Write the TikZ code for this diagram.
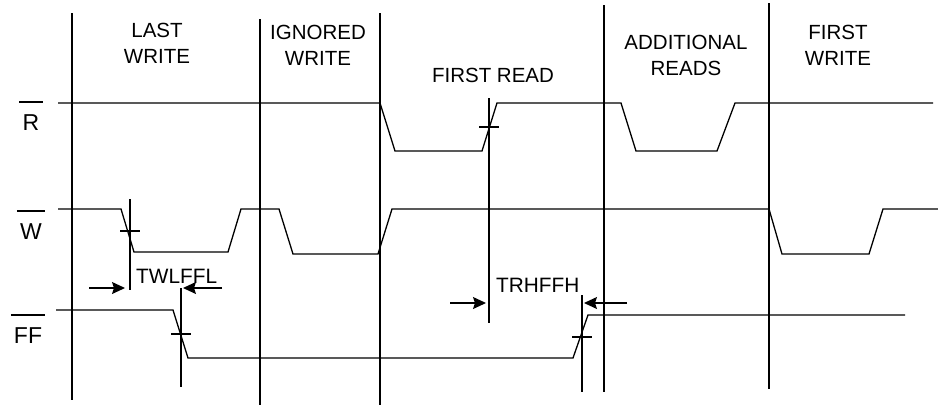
\documentclass[tikz,border=0pt]{standalone}
\usepackage{fontspec}
\setmainfont{Liberation Sans}
\usetikzlibrary{arrows.meta, positioning}

\begin{document}
\begin{tikzpicture}[
    x=1pt, y=-1pt,
    wave/.style = {line width=1.3pt, line join=miter},
    marker/.style = {line width=1.3pt},
    phase/.style = {align=center, anchor=base, inner sep=0pt, font=\fontsize{20.5}{26}\selectfont},
    signame/.style = {anchor=base, inner sep=0pt, font=\fontsize{23}{26}\selectfont},
    timing/.style = {anchor=base west, inner sep=0pt, font=\fontsize{20.8}{26}\selectfont},
    arrow/.style = {line width=1.3pt, -{Stealth[length=13pt, width=12pt, inset=2pt]}}
]
\useasboundingbox (0,0) rectangle (938,405);

% Define phase labels
\node[phase] (lastwrite) at (157,63) {LAST\\WRITE};
\node[phase] (ignored) at (318,65) {IGNORED\\WRITE};
\node[phase] (firstread) at (493,82) {FIRST READ};
\node[phase] (addreads) at (686,75) {ADDITIONAL\\READS};
\node[phase] (firstwrite) at (838,65) {FIRST\\WRITE};

% Define signal names
\node[signame] (rname) at (31,130) {R};
\node[signame] (wname) at (31,239) {W};
\node[signame] (ffname) at (28,343) {FF};
\foreach \s in {rname, wname, ffname}
    \draw[marker] ([shift={(-3,-28)}]\s.base west) -- ([shift={(3,-28)}]\s.base east);

% Phase borders
\draw[marker] (72,13) -- (72,400);
\draw[marker] (260,19) -- (260,405);
\draw[marker] (380,13) -- (380,405);
\draw[marker] (604,5) -- (604,392);
\draw[marker] (769,3) -- (769,389);

% Draw waveforms
\draw[wave] (58,103) -- (380,103) -- (395,151) -- (482,151) -- (497,103) -- (621,103)
    -- (636,151) -- (717,151) -- (735,103) -- (933,103);
\draw[wave] (58,209) -- (121,209) -- (134,252) -- (228,252) -- (241,209) -- (279,209)
    -- (293,254) -- (378,254) -- (392,209) -- (769,209) -- (782,254) -- (869,254)
    -- (883,209) -- (938,209);
\draw[wave] (56,310) -- (173,310) -- (188,358) -- (573,358) -- (588,315) -- (905,315);

% Timing marks
\coordinate (wfall) at (130,231);
\coordinate (fffall) at (181,334);
\coordinate (rrise) at (489,127);
\coordinate (ffrise) at (582,337);
\foreach \c in {wfall, fffall, rrise, ffrise}
    \draw[marker] ([xshift=-10]\c) -- ([xshift=10]\c);
\draw[marker] (130,199) -- (130,290);
\draw[marker] (181,288) -- (181,387);
\draw[marker] (489,98) -- (489,323);
\draw[marker] (582,295) -- (582,392);

% Draw arrows
\node[timing] (twlffl) at (136,283) {TWLFFL};
\node[timing] (trhffh) at (496,292) {TRHFFH};
\draw[arrow] (89,288) -- (125,288);
\draw[arrow] (222,288) -- (183,288);
\draw[arrow] (450,303) -- (486,303);
\draw[arrow] (627,303) -- (584,303);

\end{tikzpicture}
\end{document}
